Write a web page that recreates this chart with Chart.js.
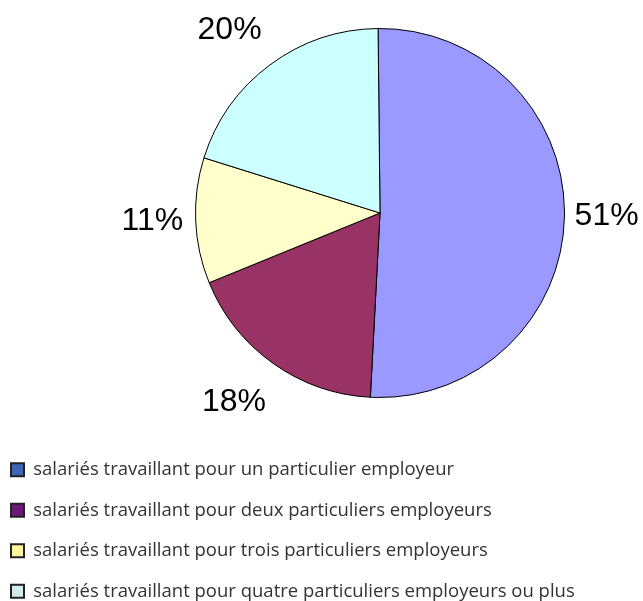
<!DOCTYPE html>
<html lang="fr">
<head>
<meta charset="utf-8">
<title>Particuliers employeurs</title>
<script src="https://cdn.jsdelivr.net/npm/chart.js@4.4.1/dist/chart.umd.min.js"></script>
<style>
  html, body { margin: 0; padding: 0; background: #fff; }
  #zone { width: 643px; height: 601px; position: relative; }
</style>
</head>
<body>
<div id="zone"><canvas id="chartSalaries"></canvas></div>
<script>
const categories = [
  'salariés travaillant pour un particulier employeur',
  'salariés travaillant pour deux particuliers employeurs',
  'salariés travaillant pour trois particuliers employeurs',
  'salariés travaillant pour quatre particuliers employeurs ou plus'
];
const parts = [51, 18, 11, 20];
const couleursParts = ['#9999ff', '#993366', '#ffffcc', '#ccffff'];
const couleursLegende = ['#3d66b6', '#6b1a79', '#fff59c', '#d2ecec'];

// étiquettes en % autour du camembert
const etiquettesPourcent = {
  id: 'etiquettesPourcent',
  afterDatasetsDraw(chart) {
    const ctx = chart.ctx;
    const total = parts.reduce((a, b) => a + b, 0);
    ctx.save();
    ctx.font = '32px "Liberation Sans", Arial, sans-serif';
    ctx.fillStyle = '#000';
    ctx.textAlign = 'center';
    ctx.textBaseline = 'middle';
    chart.getDatasetMeta(0).data.forEach((arc, i) => {
      const milieu = (arc.startAngle + arc.endAngle) / 2;
      const diag = Math.abs(Math.sin(2 * milieu));
      const x = arc.x + Math.cos(milieu) * (arc.outerRadius + 41 + 28 * diag);
      const y = arc.y + Math.sin(milieu) * (arc.outerRadius + 41 + 5 * diag) + 4 * diag - 2;
      ctx.fillText(Math.round(parts[i] / total * 100) + '%', x, y);
    });
    ctx.restore();
  }
};

// place le camembert à droite et la légende en bas à gauche
const placement = {
  id: 'placement',
  afterLayout(chart) {
    chart.chartArea = { left: 195, right: 565, top: 28, bottom: 398, width: 370, height: 370 };
    const lg = chart.legend;
    lg.left = -11;
    lg.right = 643;
    lg.width = lg.right - lg.left;
    lg.top = 438.5;
    lg.bottom = 601;
    lg.height = lg.bottom - lg.top;
  }
};

new Chart(document.getElementById('chartSalaries'), {
  type: 'pie',
  data: {
    labels: categories,
    datasets: [{
      data: parts,
      backgroundColor: couleursParts,
      borderColor: '#000',
      borderWidth: 1,
      rotation: -0.6
    }]
  },
  options: {
    responsive: true,
    maintainAspectRatio: false,
    animation: false,
    plugins: {
      tooltip: { enabled: false },
      legend: {
        position: 'bottom',
        align: 'start',
        labels: {
          boxWidth: 13,
          boxHeight: 13,
          padding: 22,
          color: '#333',
          font: { family: '"Open Sans", sans-serif', size: 18.5 },
          generateLabels: () => categories.map((text, i) => ({
            text: text,
            fillStyle: couleursLegende[i],
            strokeStyle: '#222',
            lineWidth: 2,
            hidden: false,
            index: i,
            fontColor: '#333'
          }))
        }
      }
    }
  },
  plugins: [placement, etiquettesPourcent]
});
</script>
</body>
</html>
